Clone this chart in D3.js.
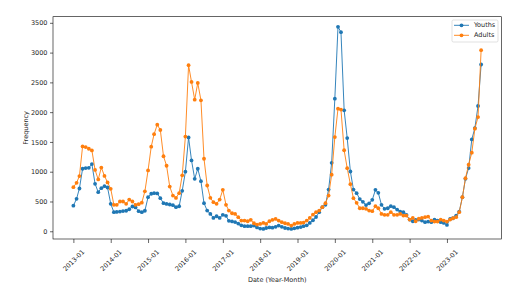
<!DOCTYPE html>
<html><head><meta charset="utf-8">
<script src="https://cdn.jsdelivr.net/npm/d3@7"></script>
<style>
body{margin:0;background:#fff}
svg{display:block}
text{font-family:"DejaVu Sans",sans-serif}
</style>
</head><body>
<svg id="chart" width="516" height="292"></svg>
<script>
// ---- data (monthly, 2013-01 .. 2023-12) ----
const startYear = 2013;
const youths = [
  430, 545, 718, 1050, 1061, 1066, 1128, 797, 657, 724, 757, 735,
  461, 320, 325, 330, 340, 345, 370, 416, 400, 337, 320, 345,
  572, 630, 640, 635, 555, 471, 460, 450, 438, 404, 420, 680,
  1000, 1575, 1190, 881, 1050, 841, 471, 348, 292, 225, 252, 225,
  276, 259, 175, 165, 155, 130, 100, 85, 85, 85, 95, 65,
  45, 40, 55, 65, 60, 75, 95, 75, 55, 45, 40, 50,
  60, 70, 85, 100, 140, 185, 240, 320, 404, 444, 700, 1150,
  2227, 3433, 3343, 2031, 1565, 1004, 700, 640, 540, 495, 440, 470,
  528, 696, 645, 444, 377, 387, 421, 404, 365, 331, 320, 276,
  197, 168, 192, 197, 180, 152, 163, 152, 197, 180, 152, 141,
  107, 208, 219, 264, 331, 572, 881, 1061, 1543, 1733, 2103, 2800
];
const adults = [
  741, 814, 926, 1425, 1414, 1386, 1358, 1030, 870, 1070, 930, 820,
  713, 444, 444, 500, 500, 461, 533, 500, 444, 455, 480, 670,
  1021, 1420, 1630, 1790, 1700, 1260, 1100, 750, 600, 560, 640, 940,
  1590, 2788, 2507, 2210, 2490, 2199, 1218, 769, 561, 488, 461, 533,
  696, 444, 348, 303, 292, 236, 180, 180, 168, 192, 135, 113,
  124, 141, 124, 168, 192, 208, 180, 152, 135, 124, 96, 124,
  141, 141, 146, 180, 225, 281, 320, 348, 404, 471, 600, 950,
  1582, 2059, 2043, 1360, 1060, 790, 555, 478, 387, 387, 377, 348,
  337, 421, 387, 292, 276, 276, 320, 276, 276, 292, 264, 264,
  197, 225, 168, 210, 225, 236, 247, 180, 163, 163, 197, 180,
  163, 197, 219, 236, 320, 572, 892, 1117, 1319, 1723, 1918, 3040
];
const seriesNames = ["Youths", "Adults"];
const seriesColors = ["#1f77b4", "#ff7f0e"];
const yTicks = [0, 500, 1000, 1500, 2000, 2500, 3000, 3500];
const xTickYears = [2013, 2014, 2015, 2016, 2017, 2018, 2019, 2020, 2021, 2022, 2023];
const xLabel = "Date (Year-Month)";
const yLabel = "Frequency";

// ---- layout ----
const L = 53, R = 501.5, T = 16.7, B = 239;
const svg = d3.select("#chart");
const dates = youths.map((_, i) => new Date(Date.UTC(startYear, i, 1)));
const series = [youths, adults];

const d0 = +dates[0], d1 = +dates[dates.length - 1], span = d1 - d0;
const x = d3.scaleUtc().domain([new Date(d0 - 0.05 * span), new Date(d1 + 0.05 * span)]).range([L, R]);
const allV = youths.concat(adults);
const vmin = d3.min(allV), vmax = d3.max(allV), vr = vmax - vmin;
const y = d3.scaleLinear().domain([vmin - 0.05 * vr, vmax + 0.05 * vr]).range([B, T]);

// y axis
const gy = svg.append("g").attr("transform", `translate(${L},0)`)
  .call(d3.axisLeft(y).tickValues(yTicks).tickFormat(d3.format("d")).tickSize(3).tickPadding(2.5));
gy.select(".domain").remove();
gy.selectAll(".tick line").attr("stroke", "#000").attr("stroke-width", 0.6);
gy.selectAll(".tick text").attr("font-size", 6.5).attr("fill", "#262626");

// x axis
const xTickDates = xTickYears.map(yr => new Date(Date.UTC(yr, 0, 1)));
const gx = svg.append("g").attr("transform", `translate(0,${B})`)
  .call(d3.axisBottom(x).tickValues(xTickDates).tickFormat(d3.utcFormat("%Y-%m")).tickSize(4));
gx.select(".domain").remove();
gx.selectAll(".tick line").attr("stroke", "#000").attr("stroke-width", 0.6);
gx.selectAll(".tick text")
  .attr("font-size", 6.5).attr("fill", "#262626")
  .attr("y", null).attr("dy", null)
  .attr("text-anchor", "middle").attr("dominant-baseline", "central")
  .attr("transform", "translate(0,21.5) rotate(-45)");

// spines
svg.append("rect").attr("x", L).attr("y", T).attr("width", R - L).attr("height", B - T)
  .attr("fill", "none").attr("stroke", "#000").attr("stroke-width", 0.6);

// axis labels
svg.append("text").attr("x", (L + R) / 2).attr("y", 280).attr("text-anchor", "middle")
  .attr("dominant-baseline", "central").attr("font-size", 6.5).attr("fill", "#262626").text(xLabel);
svg.append("text").attr("transform", `translate(26,${(T + B) / 2}) rotate(-90)`)
  .attr("text-anchor", "middle").attr("dominant-baseline", "central")
  .attr("font-size", 6.5).attr("fill", "#262626").text(yLabel);

// lines + markers
const line = d3.line().x((d, i) => x(dates[i])).y(d => y(d));
series.forEach((vals, k) => {
  const g = svg.append("g");
  g.append("path").datum(vals).attr("d", line).attr("fill", "none")
    .attr("stroke", seriesColors[k]).attr("stroke-width", 0.9);
  g.selectAll("circle").data(vals).join("circle")
    .attr("cx", (d, i) => x(dates[i])).attr("cy", d => y(d)).attr("r", 1.9)
    .attr("fill", seriesColors[k]);
});

// legend
const lg = svg.append("g");
lg.append("rect").attr("x", 452).attr("y", 20).attr("width", 46).attr("height", 22)
  .attr("rx", 1.5).attr("fill", "#fff").attr("fill-opacity", 0.8)
  .attr("stroke", "#ccc").attr("stroke-width", 0.6);
seriesNames.forEach((name, k) => {
  const yy = 25.3 + k * 10;
  lg.append("line").attr("x1", 454).attr("x2", 469).attr("y1", yy).attr("y2", yy)
    .attr("stroke", seriesColors[k]).attr("stroke-width", 0.9);
  lg.append("circle").attr("cx", 461.5).attr("cy", yy).attr("r", 1.9).attr("fill", seriesColors[k]);
  lg.append("text").attr("x", 474).attr("y", yy).attr("dominant-baseline", "central")
    .attr("font-size", 6.5).attr("fill", "#262626").text(name);
});
</script>
</body></html>
